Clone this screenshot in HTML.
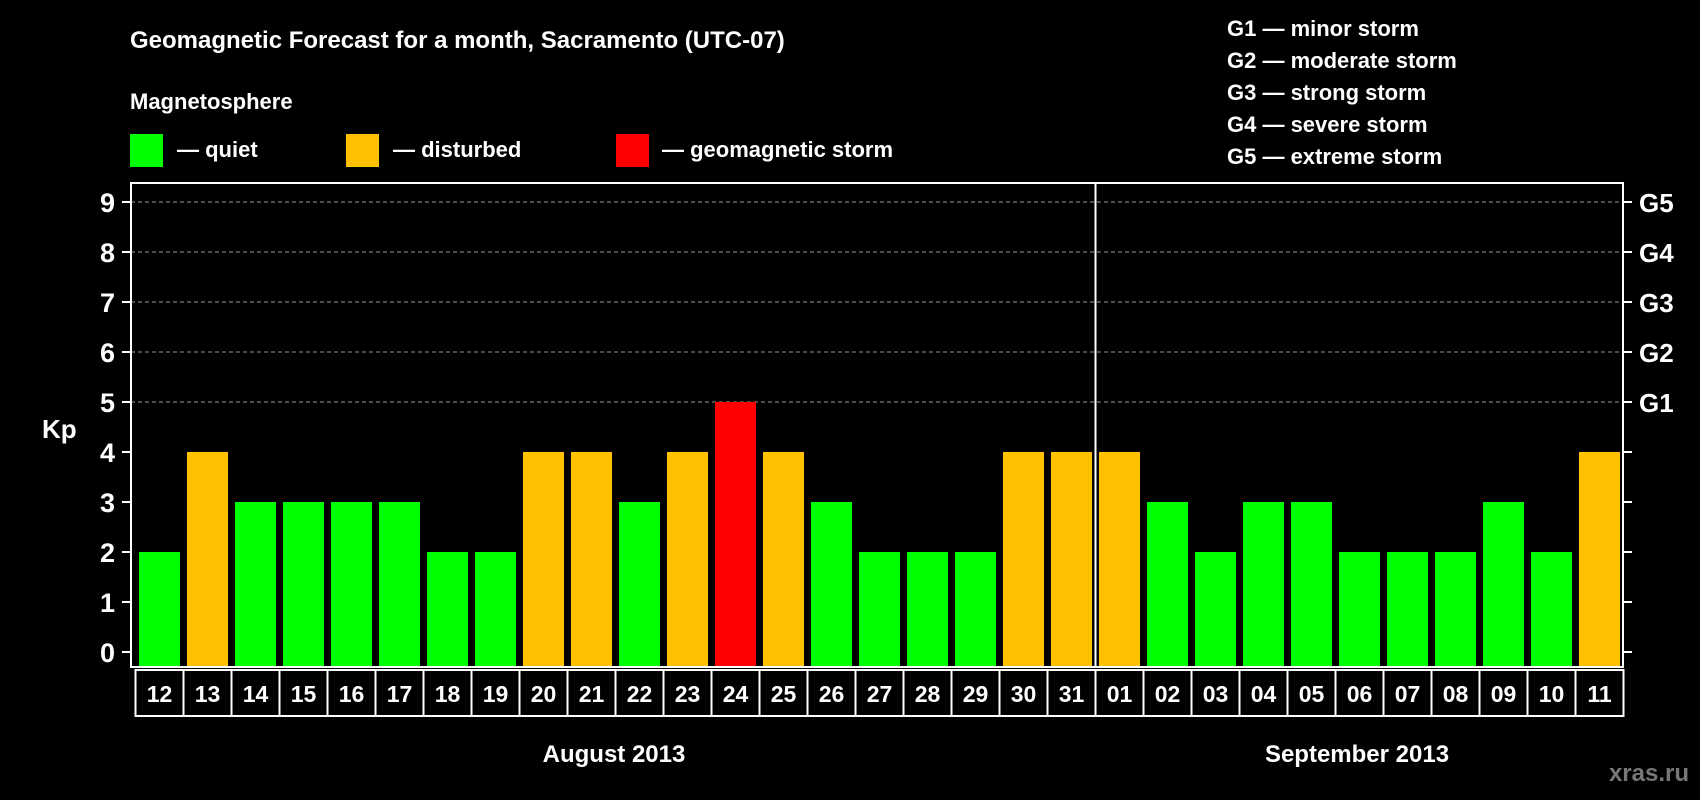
<!DOCTYPE html>
<html><head><meta charset="utf-8"><style>
html,body{margin:0;padding:0;background:#000;}
svg{display:block;font-family:"Liberation Sans",Arial,sans-serif;font-weight:bold;}
</style></head><body>
<svg id="chart" width="1700" height="800" viewBox="0 0 1700 800">
<text x="130" y="48" fill="#fff" font-size="24">Geomagnetic Forecast for a month, Sacramento (UTC-07)</text>
<text x="130" y="109" fill="#fff" font-size="22">Magnetosphere</text>
<rect x="130" y="134" width="33" height="33" fill="#00ff00"/>
<text x="177" y="157" fill="#fff" font-size="22">— quiet</text>
<rect x="346" y="134" width="33" height="33" fill="#ffc000"/>
<text x="393" y="157" fill="#fff" font-size="22">— disturbed</text>
<rect x="616" y="134" width="33" height="33" fill="#ff0000"/>
<text x="662" y="157" fill="#fff" font-size="22">— geomagnetic storm</text>
<g fill="#fff" font-size="22">
<text x="1227" y="36">G1 — minor storm</text>
<text x="1227" y="68">G2 — moderate storm</text>
<text x="1227" y="100">G3 — strong storm</text>
<text x="1227" y="132">G4 — severe storm</text>
<text x="1227" y="164">G5 — extreme storm</text>
</g>
<text x="42" y="438" fill="#fff" font-size="26">Kp</text>
<text x="614" y="762" fill="#fff" font-size="24" text-anchor="middle">August 2013</text>
<text x="1357" y="762" fill="#fff" font-size="24" text-anchor="middle">September 2013</text>
<text x="1689" y="781" fill="#777" font-size="24" text-anchor="end">xras.ru</text>
<g id="plot"></g>
</svg>
<script>
const days = ["12","13","14","15","16","17","18","19","20","21","22","23","24","25","26","27","28","29","30","31","01","02","03","04","05","06","07","08","09","10","11"];
const kp = [2,4,3,3,3,3,2,2,4,4,3,4,5,4,3,2,2,2,4,4,4,3,2,3,3,2,2,2,3,2,4];
const yTicks = [0,1,2,3,4,5,6,7,8,9];
const gLabels = ["G1","G2","G3","G4","G5"];
const gValues = [5,6,7,8,9];
const monthSplitIndex = 20;

const NS="http://www.w3.org/2000/svg";
const g=document.getElementById('plot');
const L=131,R=1623,T=183,B=667,colL=135.5,colW=48;
const y=v=>652-v*50;
const x=i=>colL+i*colW;
function mk(t,a){const e=document.createElementNS(NS,t);for(const k in a)e.setAttribute(k,a[k]);g.appendChild(e);return e;}
// grid
gValues.forEach(v=>{
  const e=mk('line',{x1:L,x2:R,y1:y(v),y2:y(v),stroke:'#999','stroke-dasharray':'4,3','stroke-width':1});
  
  
});
yTicks.forEach(v=>{
  const t=mk('line',{x1:L-9,x2:L,y1:y(v),y2:y(v),stroke:'#fff','stroke-width':2});
  
  
  const t2=mk('line',{x1:R,x2:R+9,y1:y(v),y2:y(v),stroke:'#fff','stroke-width':2});
  
  
  const l=mk('text',{x:115,y:y(v)+10,fill:'#fff','font-size':27,'text-anchor':'end'});
  l.textContent=v;
  
  
});
gLabels.forEach((s,i)=>{
  const l=mk('text',{x:1639,y:y(gValues[i])+10,fill:'#fff','font-size':26});
  l.textContent=s;
  
  
});
// bars
kp.forEach((v,i)=>{
  const c=v>=5?'#ff0000':(v>=4?'#ffc000':'#00ff00');
  const b=mk('rect',{x:x(i)+3.5,y:y(v),width:41,height:y(0)-y(v)+15,fill:c});
  
  
});
// frame
const f=mk('rect',{x:L,y:T,width:R-L,height:B-T,fill:'none',stroke:'#fff','stroke-width':2});


const d=mk('line',{x1:x(monthSplitIndex),x2:x(monthSplitIndex),y1:T,y2:B,stroke:'#fff','stroke-width':2});


// date boxes
days.forEach((s,i)=>{
  const r=mk('rect',{x:x(i),y:670,width:colW,height:46,fill:'#000',stroke:'#fff','stroke-width':2});
  
  
  const t=mk('text',{x:x(i)+colW/2,y:702,fill:'#fff','font-size':23,'text-anchor':'middle'});
  t.textContent=s;
  
  
});
</script>
</body></html>
